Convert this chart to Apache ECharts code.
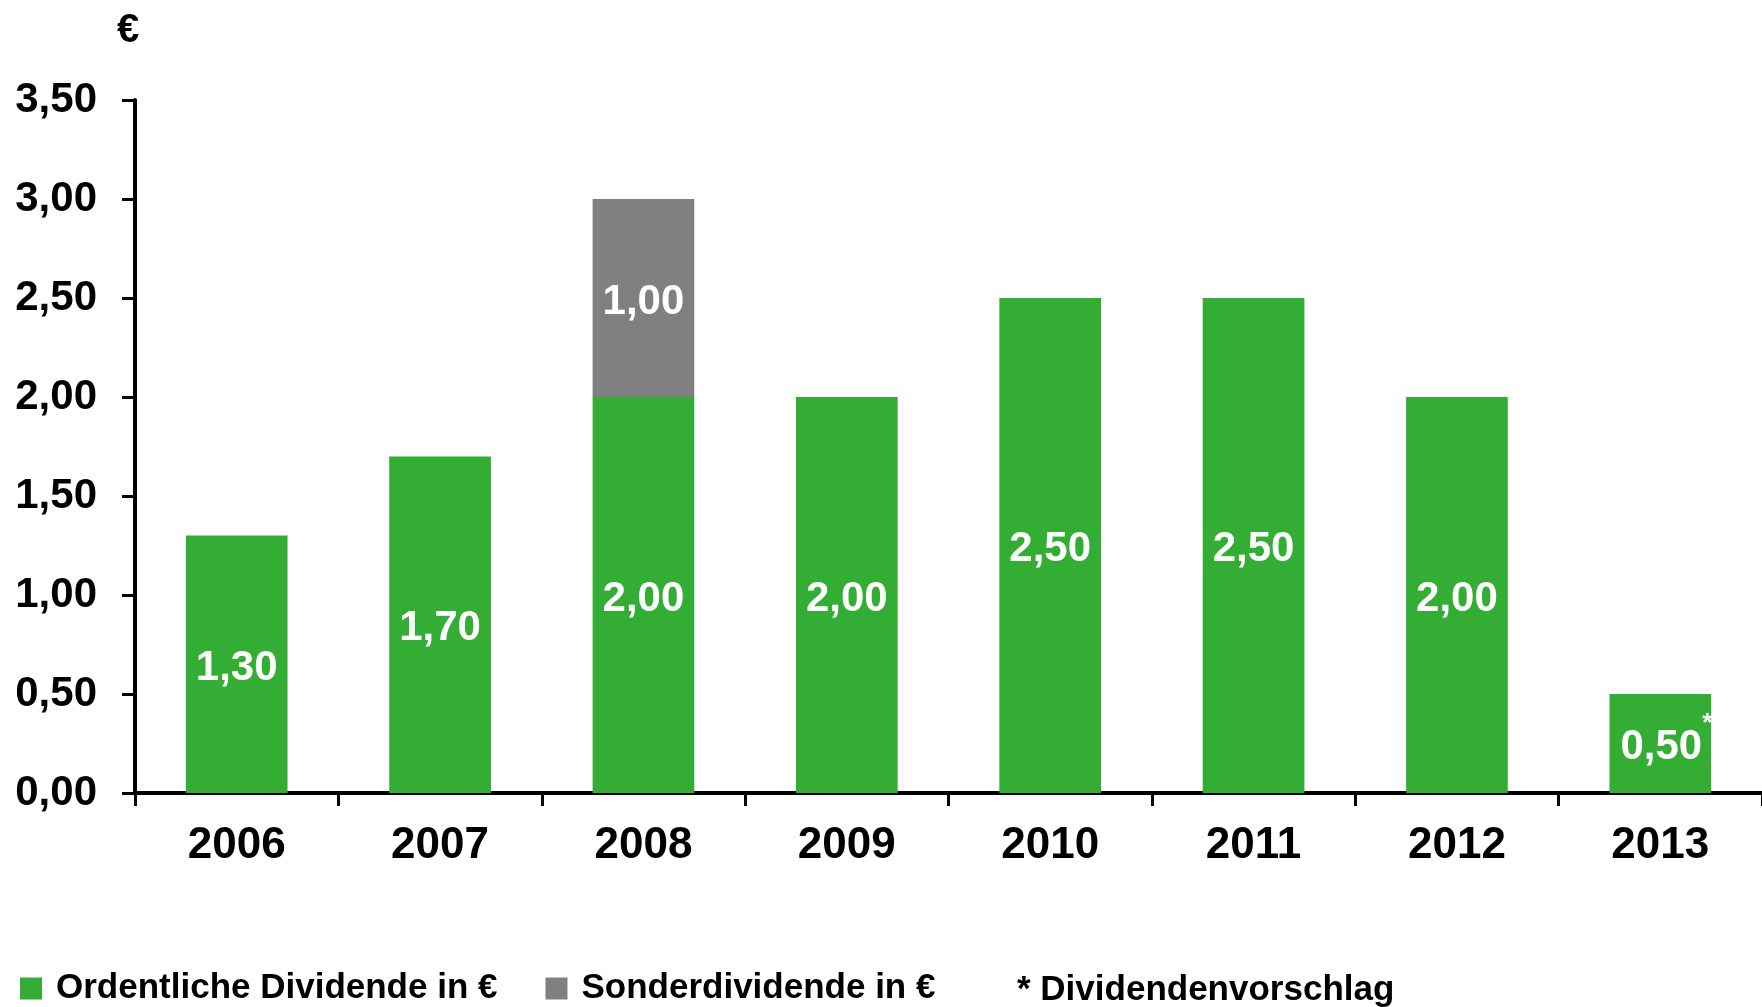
<!DOCTYPE html>
<html>
<head>
<meta charset="utf-8">
<script src="https://cdn.jsdelivr.net/npm/echarts@6/dist/echarts.min.js"></script>
<style>
html,body{margin:0;padding:0;background:#fff;}
#chart{width:1762px;height:1007px;}
</style>
</head>
<body>
<div id="chart"></div>
<script>
const years = ['2006','2007','2008','2009','2010','2011','2012','2013'];
const ordinary = [1.30, 1.70, 2.00, 2.00, 2.50, 2.50, 2.00, 0.50];
const special = [null, null, 1.00, null, null, null, null, null];
const yTicks = [0, 0.5, 1, 1.5, 2, 2.5, 3, 3.5];
const seriesNames = ['Ordentliche Dividende in €', 'Sonderdividende in €'];
const footnote = '* Dividendenvorschlag';
const unitLabel = '€';
const proposalYear = '2013';

const FONT = "'Liberation Sans', Arial, sans-serif";
const fmt = v => Number(v).toFixed(2).replace('.', ',');

const chart = echarts.init(document.getElementById('chart'));
chart.setOption({
  animation: false,
  backgroundColor: '#ffffff',
  title: [
    { text: unitLabel, left: 112, top: 6,
      textStyle: { fontFamily: FONT, fontWeight: 'bold', fontSize: 40, color: '#000' } },
    { text: footnote, left: 1012, top: 968,
      textStyle: { fontFamily: FONT, fontWeight: 'bold', fontSize: 35, color: '#000' } }
  ],
  legend: {
    left: 20, top: 971, padding: 0,
    itemWidth: 22, itemHeight: 22, itemGap: 48,
    icon: 'rect',
    textStyle: { fontFamily: FONT, fontWeight: 'bold', fontSize: 35, color: '#000', padding: [0, 0, 0, 9] },
    data: seriesNames
  },
  grid: { left: 135, right: 0, top: 100, bottom: 214, containLabel: false, outerBoundsMode: 'none' },
  xAxis: {
    type: 'category',
    data: years,
    boundaryGap: true,
    axisLine: { lineStyle: { color: '#000', width: 4 } },
    axisTick: { show: true, alignWithLabel: false, length: 13, lineStyle: { color: '#000', width: 3 } },
    axisLabel: { margin: 31, fontFamily: FONT, fontWeight: 'bold', fontSize: 44, color: '#000' }
  },
  yAxis: {
    type: 'value',
    min: 0, max: 3.5, interval: 0.5,
    splitLine: { show: false },
    axisLine: { show: true, lineStyle: { color: '#000', width: 4 } },
    axisTick: { show: true, length: 13, lineStyle: { color: '#000', width: 3 } },
    axisLabel: { margin: 38, fontFamily: FONT, fontWeight: 'bold', fontSize: 42, color: '#000',
      formatter: v => fmt(v) }
  },
  series: [
    {
      name: seriesNames[0], type: 'bar', stack: 'div', barWidth: '50%',
      itemStyle: { color: '#34AD35' },
      data: ordinary.map((v, i) => years[i] === proposalYear ? {
        value: v,
        label: {
          formatter: p => '{v|' + fmt(p.value) + '}{s|*}',
          rich: {
            v: { fontFamily: FONT, fontWeight: 'bold', fontSize: 42, color: '#fff', lineHeight: 74, padding: [0, 0, 0, 12] },
            s: { fontFamily: FONT, fontWeight: 'bold', fontSize: 26, color: '#fff', lineHeight: 26, padding: [0, 0, 48, 0] }
          }
        }
      } : v),
      label: { show: true, position: 'inside', offset: [0, 4], fontFamily: FONT, fontWeight: 'bold', fontSize: 42, color: '#fff',
        formatter: p => fmt(p.value) }
    },
    {
      name: seriesNames[1], type: 'bar', stack: 'div', barWidth: '50%',
      itemStyle: { color: '#808080' },
      data: special,
      label: { show: true, position: 'inside', offset: [0, 4], fontFamily: FONT, fontWeight: 'bold', fontSize: 42, color: '#fff',
        formatter: p => fmt(p.value) }
    }
  ]
});
</script>
</body>
</html>
